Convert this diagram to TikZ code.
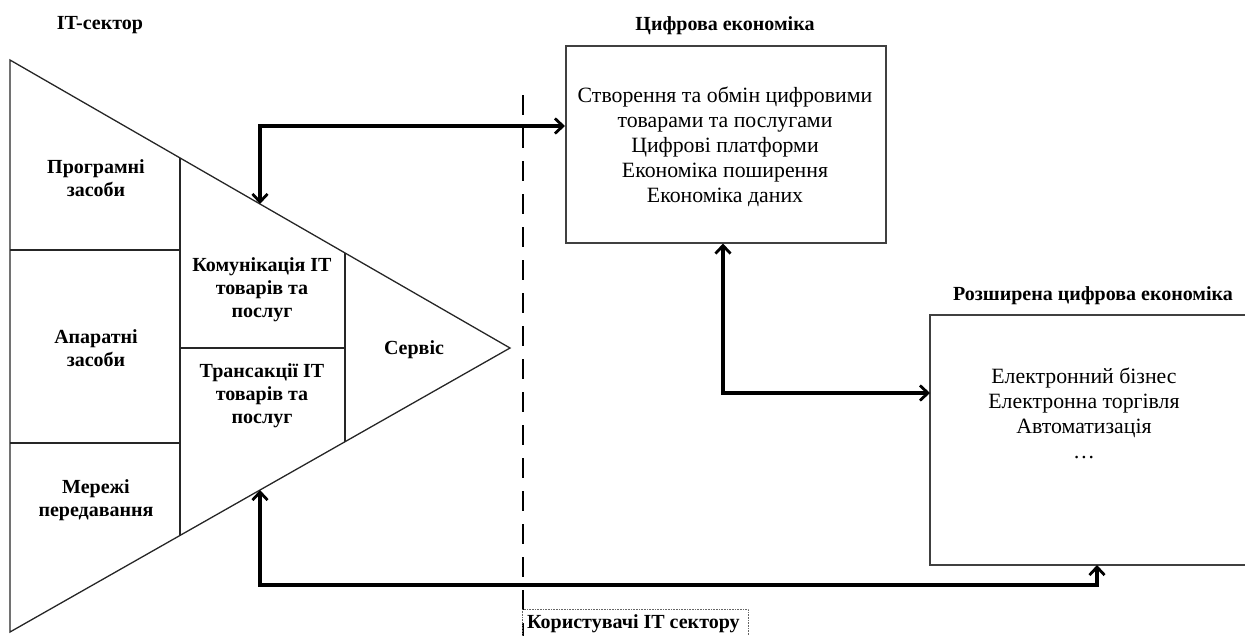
\documentclass[tikz,border=0pt]{standalone}
\usepackage{fontspec}
\setmainfont{Liberation Serif}
\usetikzlibrary{arrows.meta,calc}
\begin{document}
\begin{tikzpicture}[x=1pt,y=-1pt,
  thin line/.style={line width=1.3pt,draw=black!85},
  bold label/.style={font=\fontsize{20}{23}\selectfont\bfseries,align=center,inner sep=0pt},
  body text/.style={font=\fontsize{21.8}{25}\selectfont,align=center,inner sep=0pt},
  link/.style={line width=3.3pt,{Straight Barb[length=8pt,width=15pt,line width=2.8pt]}-{Straight Barb[length=8pt,width=15pt,line width=2.8pt]}},
  boxstyle/.style={draw=black!75,line width=1.5pt}]
\useasboundingbox (0,0) rectangle (1245,635);
% triangle
\coordinate (A) at (10,60);
\coordinate (B) at (10,632);
\coordinate (C) at (510,348);
\draw[thin line] (A) -- (C) -- (B) -- cycle;
\coordinate (v1t) at ($(A)!{170/500}!(C)$);
\coordinate (v1b) at ($(B)!{170/500}!(C)$);
\coordinate (v2t) at ($(A)!{335/500}!(C)$);
\coordinate (v2b) at ($(B)!{335/500}!(C)$);
\draw[thin line] (v1t) -- (v1b);
\draw[thin line] (v2t) -- (v2b);
\draw[thin line] (10,250) -- (180,250);
\draw[thin line] (10,443) -- (180,443);
\draw[thin line] (180,348) -- (v2t|-180,348);
\coordinate (e1) at ($(A)!{250/500}!(C)$);
\coordinate (e3) at ($(B)!{250/500}!(C)$);
% labels in triangle
\node[bold label] (it) at (100,25) {IT-сектор};
\node[bold label] (prog) at (96,178) {Програмні\\засоби};
\node[bold label] (apar) at (96,348) {Апаратні\\засоби};
\node[bold label] (mer) at (96,500) {Мережі\\передавання};
\node[bold label] (kom) at (262,290) {Комунікація IT\\товарів та\\послуг};
\node[bold label] (tran) at (262,396) {Трансакції IT\\товарів та\\послуг};
\node[bold label] (serv) at (414,350) {Сервіс};
% dashed line
\coordinate (d1) at (523,95);
\coordinate (d2) at (523,640);
\draw[line width=2.8pt,dash pattern=on 20pt off 13pt] (d1) -- (d2);
% boxes
\node[boxstyle,minimum width=320pt,minimum height=197pt,anchor=north west,inner sep=0pt] (de) at (565,45) {};
\node[body text] (detext) at (725,147) {Створення та обмін цифровими\\товарами та послугами\\Цифрові платформи\\Економіка поширення\\Економіка даних};
\node[bold label] (detitle) at (725,26) {Цифрова економіка};
\draw[boxstyle] (1260,315) -- (930,315) -- (930,565) -- (1260,565);
\coordinate (de2w) at (930,393);
\coordinate (de2s) at (1097,565);
\node[body text] (ede) at (1084,413) {Електронний бізнес\\Електронна торгівля\\Автоматизація\\\dots};
\node[bold label] (edetitle) at (1093,296) {Розширена цифрова економіка};
% connectors
\draw[link] (e1) -- (e1|-0,126) -- (de.west|-0,126);
\draw[link] (de.south-|723,0) -- (723,393) -- (de2w);
\draw[link] (e3) -- (e3|-0,585) -- (1097,585) -- (de2s);
% users label
\node[draw=black!60,densely dotted,line width=0.6pt,anchor=north west,minimum width=226pt,minimum height=30pt,inner sep=0pt] (usersbox) at (522,609) {};
\node[bold label,anchor=west] (users) at (527,624) {Користувачі IT сектору};
\end{tikzpicture}
\end{document}
